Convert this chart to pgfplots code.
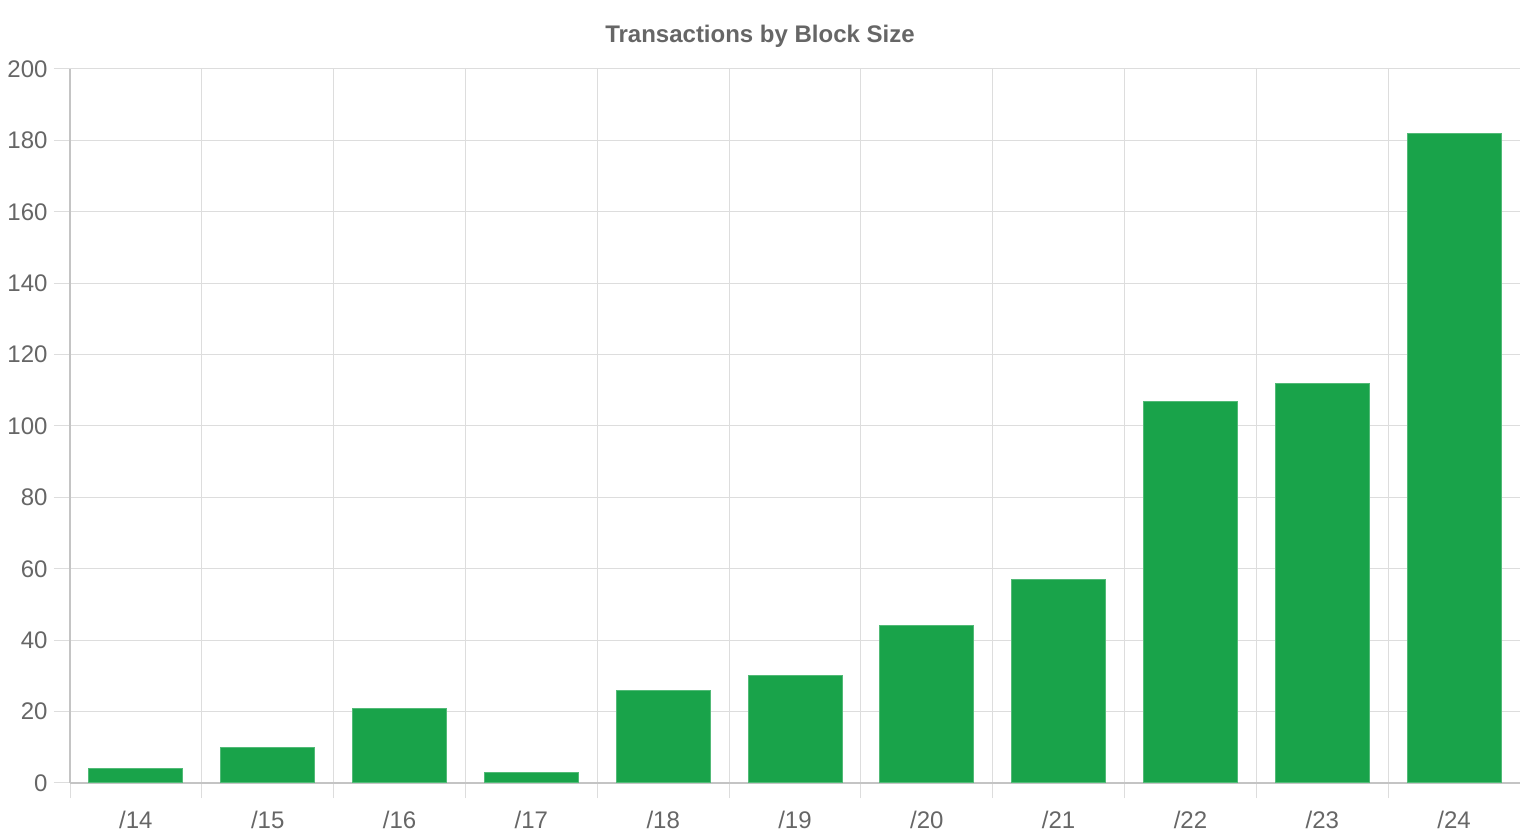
\documentclass[border=0pt]{standalone}
\usepackage{fontspec}
\setmainfont{Liberation Sans}
\usepackage{pgfplots}
\pgfplotsset{compat=1.18}
\definecolor{txt}{HTML}{666666}
\definecolor{gridc}{HTML}{DDDDDD}
\definecolor{axc}{HTML}{C4C4C4}
\definecolor{barg}{HTML}{19A34A}
\begin{document}
\begin{tikzpicture}
\path[use as bounding box] (0,0) rectangle (1520pt,840pt);
\begin{axis}[
  at={(70pt,57pt)}, anchor=south west,
  scale only axis, width=1450pt, height=714pt,
  xmin=-0.5, xmax=10.5, ymin=0, ymax=200,
  ytick={0,20,...,200},
  xtick={0,...,10},
  xticklabels={/14,/15,/16,/17,/18,/19,/20,/21,/22,/23,/24},
  minor xtick={-0.5,0.5,...,10.5},
  xminorgrids, ymajorgrids,
  major grid style={draw=gridc, line width=1pt},
  minor grid style={draw=gridc, line width=1pt},
  axis x line=bottom, axis y line=left,
  axis line style={draw=axc, line width=1.4pt, -},
  tick align=outside,
  major tick length=16pt, minor tick length=15pt,
  major x tick style={draw=none},
  major y tick style={draw=gridc, line width=1pt},
  minor x tick style={draw=gridc, line width=1pt},
  tick label style={font=\fontsize{24}{28}\selectfont, text=txt},
  /pgf/number format/assume math mode=true,
  yticklabel style={xshift=-3pt},
  xticklabel style={yshift=-9pt},
  clip=false,
]
\addplot[ybar, bar width=0.713, fill=barg, draw=barg!75!white, line width=1pt]
coordinates {(0,4) (1,10) (2,21) (3,3) (4,26) (5,30) (6,44) (7,57) (8,107) (9,112) (10,182)};
\end{axis}
\node[text=txt, font=\fontsize{24}{28}\selectfont\bfseries] at (760pt,804pt) {Transactions by Block Size};
\end{tikzpicture}
\end{document}
